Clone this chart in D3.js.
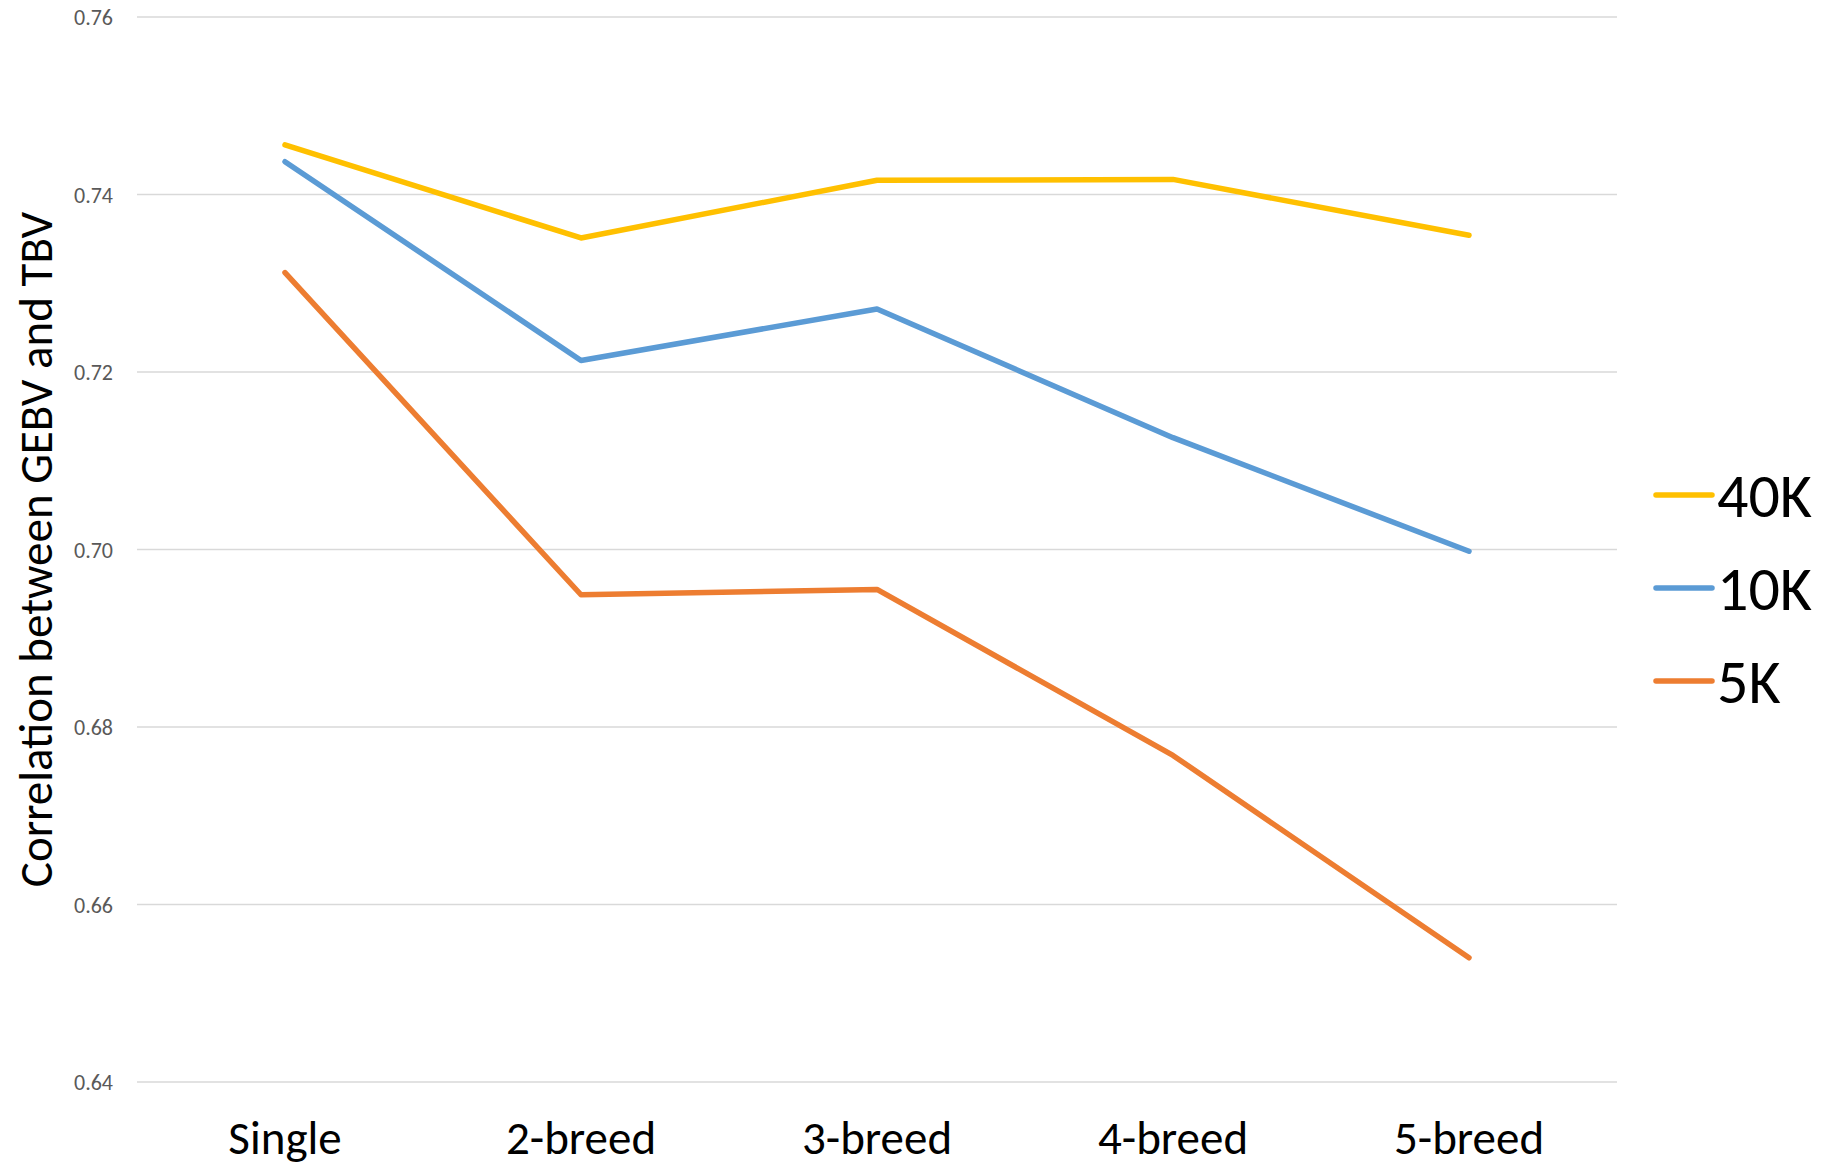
<!DOCTYPE html>
<html>
<head>
<meta charset="utf-8">
<script src="https://cdn.jsdelivr.net/npm/d3@7"></script>
<style>
  html, body { margin: 0; padding: 0; background: #ffffff; }
  svg { display: block; }
  text { font-family: Carlito, Calibri, Lato, "Open Sans", sans-serif; }
</style>
</head>
<body>
<svg id="chart" width="1831" height="1169"></svg>
<script>
// Reference populations
const categories = ["Single", "2-breed", "3-breed", "4-breed", "5-breed"];

// Correlation between GEBV and TBV by SNP panel density
const seriesNames = ["40K", "10K", "5K"];
const values40K = [0.7456, 0.7351, 0.7416, 0.7417, 0.7354];
const values10K = [0.7437, 0.7213, 0.7271, 0.7126, 0.6998];
const values5K  = [0.7312, 0.6949, 0.6955, 0.6768, 0.6540];
const seriesColors = ["#FFC000", "#5B9BD5", "#ED7D31"];

const yTicks = [0.64, 0.66, 0.68, 0.70, 0.72, 0.74, 0.76];
const yDomain = [0.64, 0.76];
const yTitle = "Correlation between GEBV and TBV";

const series = seriesNames.map((name, i) => ({
  name,
  color: seriesColors[i],
  values: [values40K, values10K, values5K][i]
}));

const svg = d3.select("#chart");
const plot = { left: 137, right: 1617, top: 17, bottom: 1082 };

const x = d3.scaleBand()
  .domain(categories)
  .range([plot.left, plot.right])
  .paddingInner(0)
  .paddingOuter(0);

const y = d3.scaleLinear()
  .domain(yDomain)
  .range([plot.bottom, plot.top]);

// Horizontal gridlines
svg.append("g")
  .selectAll("line")
  .data(yTicks)
  .join("line")
  .attr("x1", plot.left)
  .attr("x2", plot.right)
  .attr("y1", d => y(d))
  .attr("y2", d => y(d))
  .attr("stroke", "#D9D9D9")
  .attr("stroke-width", 1.6);

// Y axis tick labels
const yAxis = d3.axisLeft(y)
  .tickValues(yTicks)
  .tickFormat(d3.format(".2f"))
  .tickSize(0)
  .tickPadding(0);

const yAxisG = svg.append("g")
  .attr("transform", `translate(${plot.left - 24},0)`)
  .call(yAxis);
yAxisG.select(".domain").remove();
yAxisG.selectAll("text")
  .attr("fill", "#595959")
  .attr("font-size", 22)
  .attr("dy", "0.35em");

// X axis category labels
const xAxis = d3.axisBottom(x).tickSize(0).tickPadding(0);
const xAxisG = svg.append("g")
  .attr("transform", `translate(0,${plot.bottom})`)
  .call(xAxis);
xAxisG.select(".domain").remove();
xAxisG.selectAll("text")
  .attr("fill", "#000000")
  .attr("font-size", 47)
  .attr("y", 72)
  .attr("dy", 0);

// Y axis title
svg.append("text")
  .attr("transform", `translate(52,${(plot.top + plot.bottom) / 2}) rotate(-90)`)
  .attr("text-anchor", "middle")
  .attr("font-size", 47)
  .attr("fill", "#000000")
  .text(yTitle);

// Series lines
const line = d3.line()
  .x((d, i) => x(categories[i]) + x.bandwidth() / 2)
  .y(d => y(d));

svg.append("g")
  .selectAll("path")
  .data(series)
  .join("path")
  .attr("d", d => line(d.values))
  .attr("fill", "none")
  .attr("stroke", d => d.color)
  .attr("stroke-width", 5.5)
  .attr("stroke-linecap", "round")
  .attr("stroke-linejoin", "round");

// Legend
const legend = svg.append("g")
  .selectAll("g")
  .data(series)
  .join("g")
  .attr("transform", (d, i) => `translate(1656,${495 + i * 93})`);

legend.append("line")
  .attr("x1", 0)
  .attr("x2", 56)
  .attr("y1", 0)
  .attr("y2", 0)
  .attr("stroke", d => d.color)
  .attr("stroke-width", 5.5)
  .attr("stroke-linecap", "round");

legend.append("text")
  .attr("x", 61)
  .attr("y", 22)
  .attr("font-size", 62)
  .attr("fill", "#000000")
  .text(d => d.name);
</script>
</body>
</html>
